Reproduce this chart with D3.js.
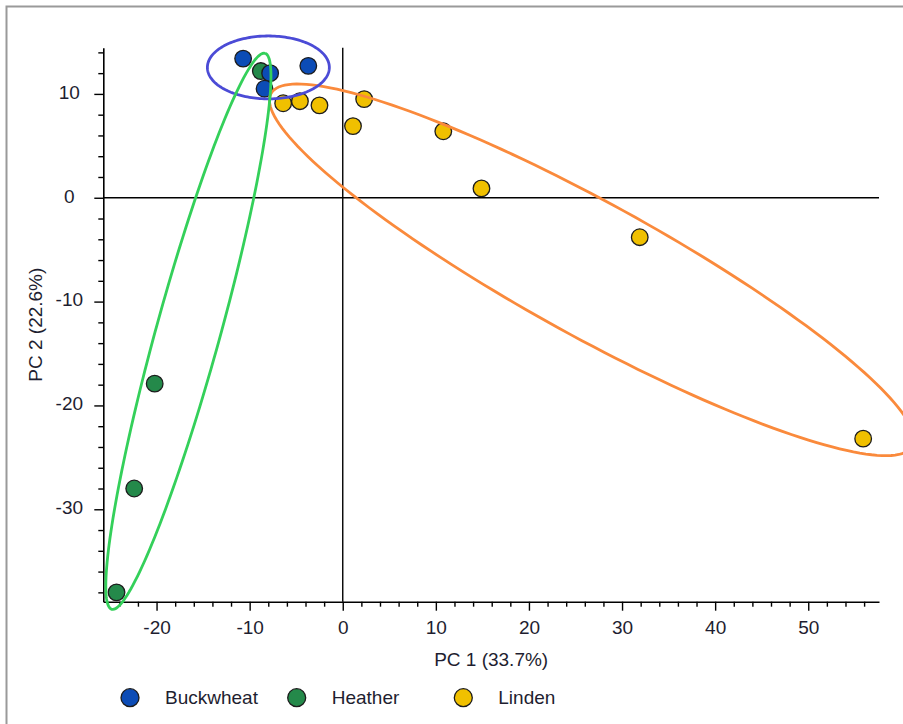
<!DOCTYPE html>
<html>
<head>
<meta charset="utf-8">
<script src="https://cdn.jsdelivr.net/npm/d3@7"></script>
<style>
  html, body { margin: 0; padding: 0; background: #fff; }
  svg { display: block; font-family: "Liberation Sans", Arial, sans-serif; }
</style>
</head>
<body>
<svg id="chart" width="903" height="724"></svg>
<script>
// PCA scores (PC1, PC2) per honey type
const groups = ["Buckwheat", "Heather", "Linden"];
const buckwheatPC1 = [-10.7, -3.7, -7.8, -8.4];
const buckwheatPC2 = [13.4, 12.7, 12.0, 10.5];
const heatherPC1 = [-8.8, -20.2, -22.4, -24.3];
const heatherPC2 = [12.2, -17.9, -28.0, -38.0];
const lindenPC1 = [-6.4, -4.6, -2.5, 2.3, 1.1, 10.8, 14.9, 31.9, 55.9];
const lindenPC2 = [9.1, 9.3, 8.9, 9.5, 6.9, 6.4, 0.9, -3.8, -23.2];

// Group ellipses: centre, first half-axis, second half-axis (score units)
const ellipseCentre = [[-7.99, 12.55], [-16.58, -12.86], [26.75, -6.94]];
const ellipseAxisA = [[6.55, 0], [8.23, 26.77], [34.45, -16.98]];
const ellipseAxisB = [[0, 3.03], [3.31, -0.82], [3.47, 5.65]];

const xTickValues = d3.range(-24, 57, 2);
const yTickValues = d3.range(-38, 15, 2);
const xTitle = "PC 1 (33.7%)";
const yTitle = "PC 2 (22.6%)";

const fillColor = { Buckwheat: "#0c4cb6", Heather: "#24894a", Linden: "#f0c000" };
const ellipseColor = { Buckwheat: "#4b4bd6", Heather: "#34d05a", Linden: "#fa8a3c" };
const textColor = "#1e1e30";

const svg = d3.select("#chart");
const plot = { left: 103.3, right: 879, top: 47.7, bottom: 601.7 };

const x = d3.scaleLinear().domain([-25.72, 57.6]).range([plot.left, plot.right]);
const y = d3.scaleLinear().domain([-38.9, 14.45]).range([plot.bottom, plot.top]);

// outer frame
svg.append("rect")
  .attr("x", 6.5).attr("y", 6.5)
  .attr("width", 1000).attr("height", 1000)
  .attr("fill", "none").attr("stroke", "#9a9a9a").attr("stroke-width", 2);

const isMajor = d => d % 10 === 0;

// x axis
const xAxis = svg.append("g")
  .attr("transform", `translate(0,${plot.bottom})`)
  .call(d3.axisBottom(x).tickValues(xTickValues).tickSize(5).tickSizeOuter(0)
    .tickFormat(d => isMajor(d) ? String(d) : ""));
xAxis.selectAll(".tick line").filter(isMajor).attr("y2", 9);
xAxis.selectAll(".tick text").attr("y", 19).attr("dy", "0.71em");

// y axis
const yAxis = svg.append("g")
  .attr("transform", `translate(${plot.left},0)`)
  .call(d3.axisLeft(y).tickValues(yTickValues).tickSize(5).tickSizeOuter(0)
    .tickFormat(d => isMajor(d) ? String(d) : ""));
yAxis.selectAll(".tick line").filter(isMajor).attr("x2", -9);
yAxis.selectAll(".tick text").attr("x", -34).attr("dy", "0.23em").attr("text-anchor", "middle");

[xAxis, yAxis].forEach(g => {
  g.select(".domain").attr("stroke", "#000").attr("stroke-width", 1.6);
  g.selectAll(".tick line").attr("stroke", "#000").attr("stroke-width", 1.4);
  g.selectAll(".tick text").attr("font-size", 19).attr("fill", textColor)
    .attr("font-family", "Liberation Sans, Arial, sans-serif");
});

// zero lines
svg.append("line")
  .attr("x1", plot.left).attr("x2", plot.right)
  .attr("y1", y(0)).attr("y2", y(0))
  .attr("stroke", "#000").attr("stroke-width", 1.4);
svg.append("line")
  .attr("x1", x(0)).attr("x2", x(0))
  .attr("y1", plot.top).attr("y2", plot.bottom)
  .attr("stroke", "#000").attr("stroke-width", 1.4);

// axis titles
svg.append("text")
  .attr("x", (plot.left + plot.right) / 2).attr("y", 666)
  .attr("text-anchor", "middle").attr("font-size", 19).attr("fill", textColor)
  .text(xTitle);
svg.append("text")
  .attr("transform", `translate(41.5,${(plot.top + plot.bottom) / 2}) rotate(-90)`)
  .attr("text-anchor", "middle").attr("font-size", 19).attr("fill", textColor)
  .text(yTitle);

// points
const series = {
  Buckwheat: buckwheatPC1.map((v, i) => [v, buckwheatPC2[i]]),
  Heather: heatherPC1.map((v, i) => [v, heatherPC2[i]]),
  Linden: lindenPC1.map((v, i) => [v, lindenPC2[i]])
};
const drawOrder = ["Heather", "Buckwheat", "Linden"];
const pts = svg.append("g");
drawOrder.forEach(g => {
  pts.selectAll(null).data(series[g]).enter().append("circle")
    .attr("cx", d => x(d[0])).attr("cy", d => y(d[1]))
    .attr("r", 8.3)
    .attr("fill", fillColor[g])
    .attr("stroke", "#1c1c1c").attr("stroke-width", 1.3);
});

// group ellipses
const line = d3.line().x(d => x(d[0])).y(d => y(d[1]));
const steps = d3.range(0, 361, 2).map(a => a * Math.PI / 180);
const ell = svg.append("g");
[2, 0, 1].forEach(i => {
  const c = ellipseCentre[i], a = ellipseAxisA[i], b = ellipseAxisB[i];
  const outline = steps.map(t => [
    c[0] + a[0] * Math.cos(t) + b[0] * Math.sin(t),
    c[1] + a[1] * Math.cos(t) + b[1] * Math.sin(t)
  ]);
  ell.append("path")
    .attr("d", line(outline))
    .attr("fill", "none")
    .attr("stroke", ellipseColor[groups[i]])
    .attr("stroke-width", 2.8);
});

// legend
const legendX = [130, 296.7, 463.3];
const legend = svg.append("g");
groups.forEach((g, i) => {
  legend.append("circle")
    .attr("cx", legendX[i]).attr("cy", 697.7).attr("r", 9)
    .attr("fill", fillColor[g]).attr("stroke", "#1c1c1c").attr("stroke-width", 1.3);
  legend.append("text")
    .attr("x", legendX[i] + 35).attr("y", 703.5)
    .attr("font-size", 19).attr("fill", textColor)
    .text(g);
});
</script>
</body>
</html>
